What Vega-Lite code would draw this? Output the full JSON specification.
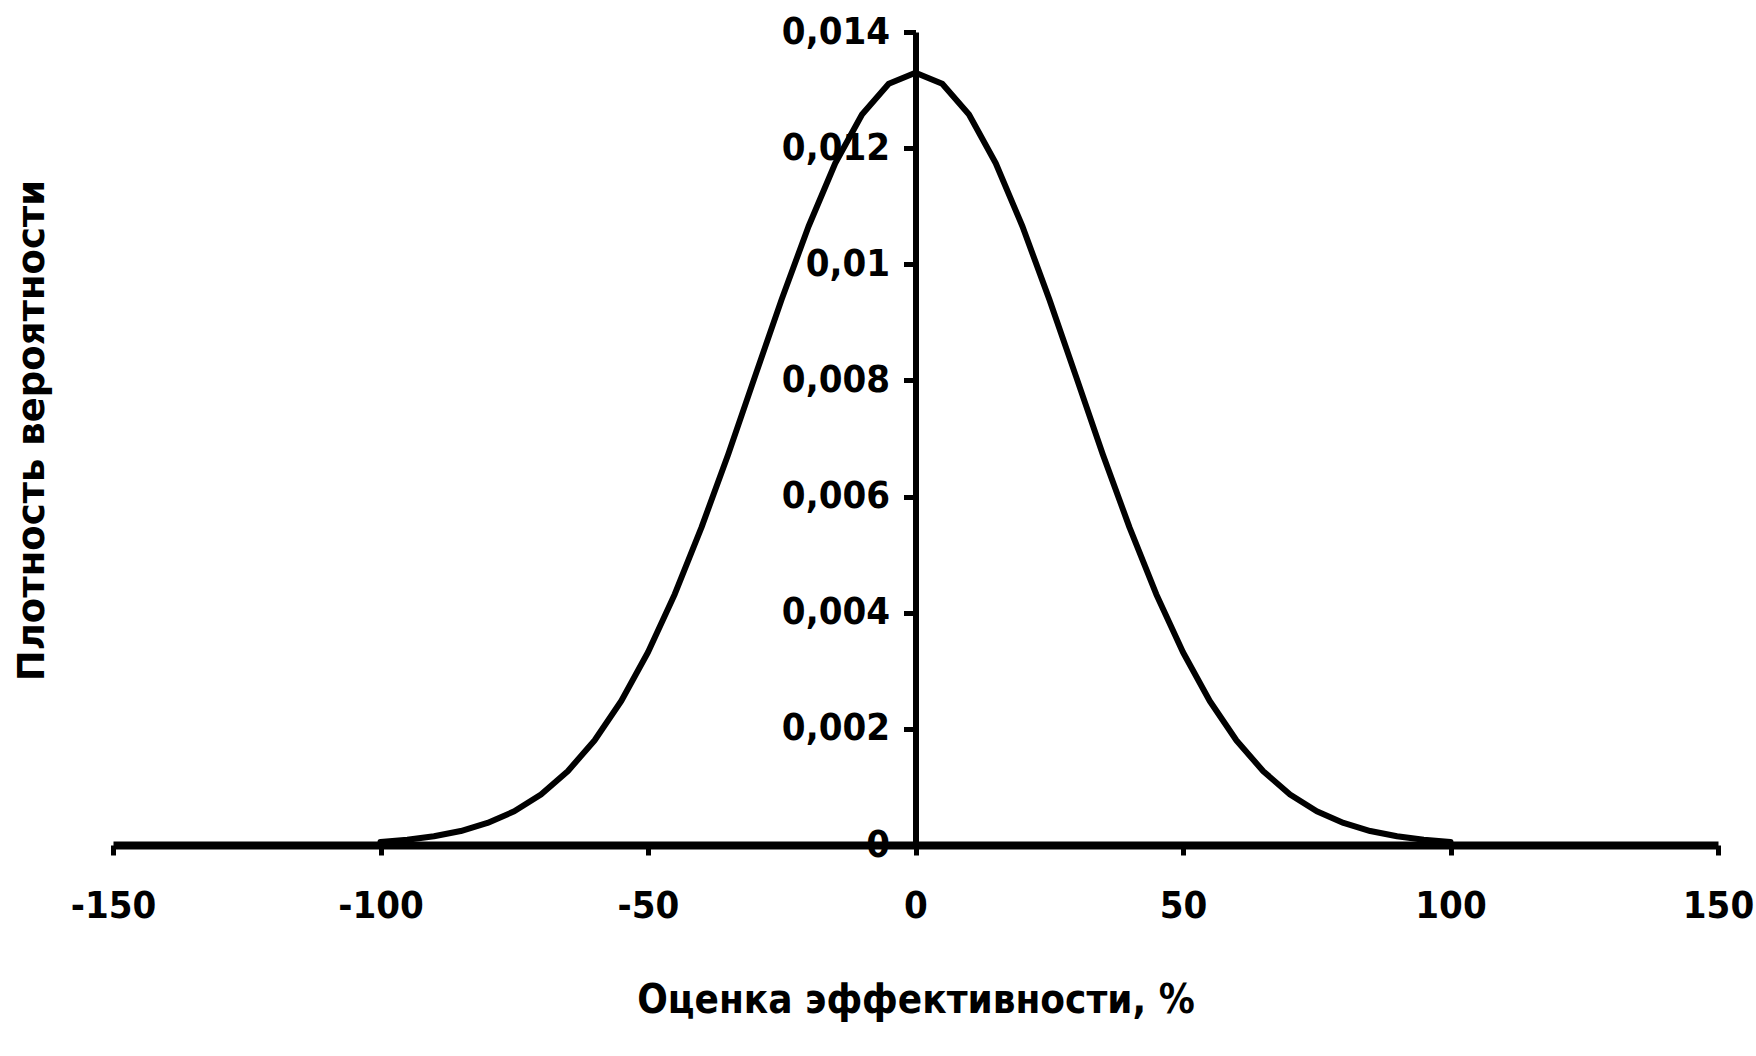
{
  "$schema": "https://vega.github.io/schema/vega-lite/v6.json",
  "width": 1605,
  "height": 813,
  "autosize": "none",
  "padding": {"left": 113, "top": 32, "right": 38, "bottom": 211},
  "background": "white",
  "config": {"view": {"stroke": null}},
  "data": {"values": [
    {"x": -100, "y": 0.00005}, {"x": -95, "y": 0.00009}, {"x": -90, "y": 0.00015}, {"x": -85, "y": 0.00024},
    {"x": -80, "y": 0.00038}, {"x": -75, "y": 0.00058}, {"x": -70, "y": 0.00087}, {"x": -65, "y": 0.00127},
    {"x": -60, "y": 0.0018}, {"x": -55, "y": 0.00248}, {"x": -50, "y": 0.00332}, {"x": -45, "y": 0.00432},
    {"x": -40, "y": 0.00547}, {"x": -35, "y": 0.00673}, {"x": -30, "y": 0.00807}, {"x": -25, "y": 0.0094},
    {"x": -20, "y": 0.01065}, {"x": -15, "y": 0.01174}, {"x": -10, "y": 0.01258}, {"x": -5, "y": 0.01311},
    {"x": 0, "y": 0.0133},
    {"x": 5, "y": 0.01311}, {"x": 10, "y": 0.01258}, {"x": 15, "y": 0.01174}, {"x": 20, "y": 0.01065},
    {"x": 25, "y": 0.0094}, {"x": 30, "y": 0.00807}, {"x": 35, "y": 0.00673}, {"x": 40, "y": 0.00547},
    {"x": 45, "y": 0.00432}, {"x": 50, "y": 0.00332}, {"x": 55, "y": 0.00248}, {"x": 60, "y": 0.0018},
    {"x": 65, "y": 0.00127}, {"x": 70, "y": 0.00087}, {"x": 75, "y": 0.00058}, {"x": 80, "y": 0.00038},
    {"x": 85, "y": 0.00024}, {"x": 90, "y": 0.00015}, {"x": 95, "y": 0.00009}, {"x": 100, "y": 0.00005}
  ]},
  "mark": {"type": "line", "color": "black", "strokeWidth": 6, "strokeJoin": "round", "strokeCap": "round"},
  "encoding": {
    "x": {
      "field": "x", "type": "quantitative",
      "scale": {"domain": [-150, 150], "nice": false, "zero": false},
      "axis": {
        "values": [-150, -100, -50, 0, 50, 100, 150],
        "labelExpr": "toString(datum.value)",
        "grid": false,
        "domainColor": "black", "domainWidth": 8,
        "tickColor": "black", "tickWidth": 5, "tickSize": 10,
        "labelFont": "DejaVu Sans Condensed, sans-serif",
        "labelFontWeight": "bold", "labelFontSize": 38, "labelColor": "black",
        "labelPadding": 32, "labelFlush": false,
        "title": "Оценка эффективности, %",
        "titleFont": "DejaVu Sans Condensed, sans-serif",
        "titleFontWeight": "bold", "titleFontSize": 40, "titleColor": "black",
        "titleBaseline": "middle", "titleY": 155
      }
    },
    "y": {
      "field": "y", "type": "quantitative",
      "scale": {"domain": [0, 0.014], "nice": false},
      "axis": {
        "values": [0, 0.002, 0.004, 0.006, 0.008, 0.01, 0.012, 0.014],
        "labelExpr": "replace(format(datum.value, '~g'), '.', ',')",
        "offset": -802.5,
        "grid": false,
        "domainColor": "black", "domainWidth": 6,
        "tickColor": "black", "tickWidth": 5, "tickSize": 12,
        "labelFont": "DejaVu Sans Condensed, sans-serif",
        "labelFontWeight": "bold", "labelFontSize": 38, "labelColor": "black",
        "labelPadding": 14, "labelFlush": false,
        "title": "Плотность вероятности",
        "titleFont": "DejaVu Sans, sans-serif",
        "titleFontWeight": "bold", "titleFontSize": 37, "titleColor": "black",
        "titleAngle": -90, "titleAlign": "center", "titleBaseline": "middle",
        "titleX": -883.5, "titleY": 398
      }
    }
  }
}
